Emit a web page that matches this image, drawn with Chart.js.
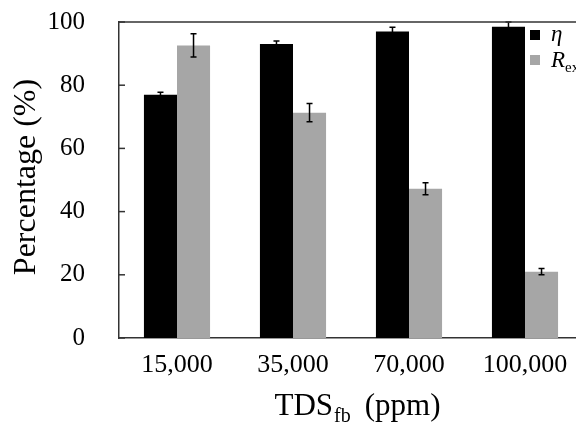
<!DOCTYPE html>
<html>
<head>
<meta charset="utf-8">
<script src="https://cdn.jsdelivr.net/npm/chart.js@4.4.0/dist/chart.umd.min.js"></script>
<style>
  html, body { margin: 0; padding: 0; overflow: hidden; background: #fff; }
  #wrap { width: 620px; height: 425px; }
</style>
</head>
<body>
<div id="wrap"><canvas id="tdsChart" width="620" height="425"></canvas></div>
<script>
// données
const categories = ['15,000', '35,000', '70,000', '100,000'];
const etaValues = [77, 93, 97, 98.5];
const etaErrors = [0.8, 1, 1.3, 1.5];
const rexValues = [92.6, 71.3, 47.2, 21];
const rexErrors = [3.7, 2.9, 1.9, 1];
const errors = [etaErrors, rexErrors];

const serif = "'Liberation Serif', 'Times New Roman', serif";

// barres d'erreur, ticks internes, ligne du haut, titres et légende
const extras = {
  id: 'extras',
  afterDatasetsDraw(chart) {
    const ctx = chart.ctx;
    const y = chart.scales.y;
    const area = chart.chartArea;
    ctx.save();
    ctx.strokeStyle = '#000';
    ctx.lineWidth = 1.5;
    chart.data.datasets.forEach((ds, i) => {
      const meta = chart.getDatasetMeta(i);
      meta.data.forEach((bar, j) => {
        const v = ds.data[j], e = errors[i][j];
        const y1 = y.getPixelForValue(v + e);
        const y2 = y.getPixelForValue(v - e);
        ctx.beginPath();
        ctx.moveTo(bar.x, y1); ctx.lineTo(bar.x, y2);
        ctx.moveTo(bar.x - 3, y1); ctx.lineTo(bar.x + 3, y1);
        ctx.moveTo(bar.x - 3, y2); ctx.lineTo(bar.x + 3, y2);
        ctx.stroke();
      });
    });

    // ticks vers l'intérieur
    ctx.strokeStyle = '#333';
    ctx.lineWidth = 1.5;
    y.ticks.forEach(t => {
      const py = y.getPixelForValue(t.value);
      ctx.beginPath();
      ctx.moveTo(area.left, py); ctx.lineTo(area.left + 6, py);
      ctx.stroke();
    });
    // ligne du haut
    ctx.beginPath();
    ctx.moveTo(area.left, area.top); ctx.lineTo(chart.width, area.top);
    ctx.stroke();

    // titre axe Y
    ctx.fillStyle = '#000';
    ctx.font = '32px ' + serif;
    ctx.textAlign = 'center';
    ctx.textBaseline = 'middle';
    ctx.save();
    ctx.translate(27, 177);
    ctx.rotate(-Math.PI / 2);
    ctx.fillText('Percentage (%)', 0, 0);
    ctx.restore();

    // titre axe X avec indice
    ctx.textAlign = 'left';
    ctx.textBaseline = 'alphabetic';
    const big = '31px ' + serif, small = '20px ' + serif;
    const gap = 14;
    ctx.font = big;
    const w1 = ctx.measureText('TDS').width;
    const w3 = ctx.measureText('(ppm)').width;
    ctx.font = small;
    const w2 = ctx.measureText('fb').width;
    let x = 357 - (w1 + w2 + gap + w3) / 2;
    ctx.font = big; ctx.fillText('TDS', x, 415); x += w1 + 1;
    ctx.font = small; ctx.fillText('fb', x, 422); x += w2 + gap;
    ctx.font = big; ctx.fillText('(ppm)', x, 415);

    // légende
    ctx.fillStyle = '#000';
    ctx.fillRect(530, 30, 10, 10);
    ctx.fillStyle = '#a6a6a6';
    ctx.fillRect(530, 55, 10, 10);
    ctx.fillStyle = '#000';
    ctx.font = 'italic 23px ' + serif;
    ctx.fillText('η', 551, 41);
    ctx.fillText('R', 551, 67);
    const wr = ctx.measureText('R').width;
    ctx.font = '15px ' + serif;
    ctx.fillText('ex', 551 + wr, 72);
    ctx.restore();
  }
};

const chart = new Chart(document.getElementById('tdsChart'), {
  type: 'bar',
  data: {
    labels: categories,
    datasets: [
      { label: 'η', data: etaValues, backgroundColor: '#000000' },
      { label: 'Rex', data: rexValues, backgroundColor: '#a6a6a6' }
    ]
  },
  options: {
    responsive: false,
    devicePixelRatio: 1,
    animation: false,
    layout: { padding: { top: 22, right: 37, left: 0, bottom: 0 } },
    datasets: { bar: { categoryPercentage: 0.57, barPercentage: 1.0 } },
    plugins: { legend: { display: false }, tooltip: { enabled: false } },
    scales: {
      x: {
        grid: { display: false },
        border: { color: '#333', width: 1.5 },
        ticks: { color: '#000', font: { family: serif, size: 26 }, padding: 4 },
        afterFit(s) { s.height = 87; s.paddingLeft = 0; s.paddingRight = 0; }
      },
      y: {
        min: 0, max: 100,
        grid: { display: false },
        border: { color: '#333', width: 1.5 },
        ticks: {
          stepSize: 10,
          color: '#000',
          font: { family: serif, size: 25 },
          padding: 26,
          callback: v => (v % 20 === 0 ? v : '')
        },
        afterFit(s) { s.width = 119; s.paddingTop = 0; s.paddingBottom = 0; }
      }
    }
  },
  plugins: [extras]
});
</script>
</body>
</html>
